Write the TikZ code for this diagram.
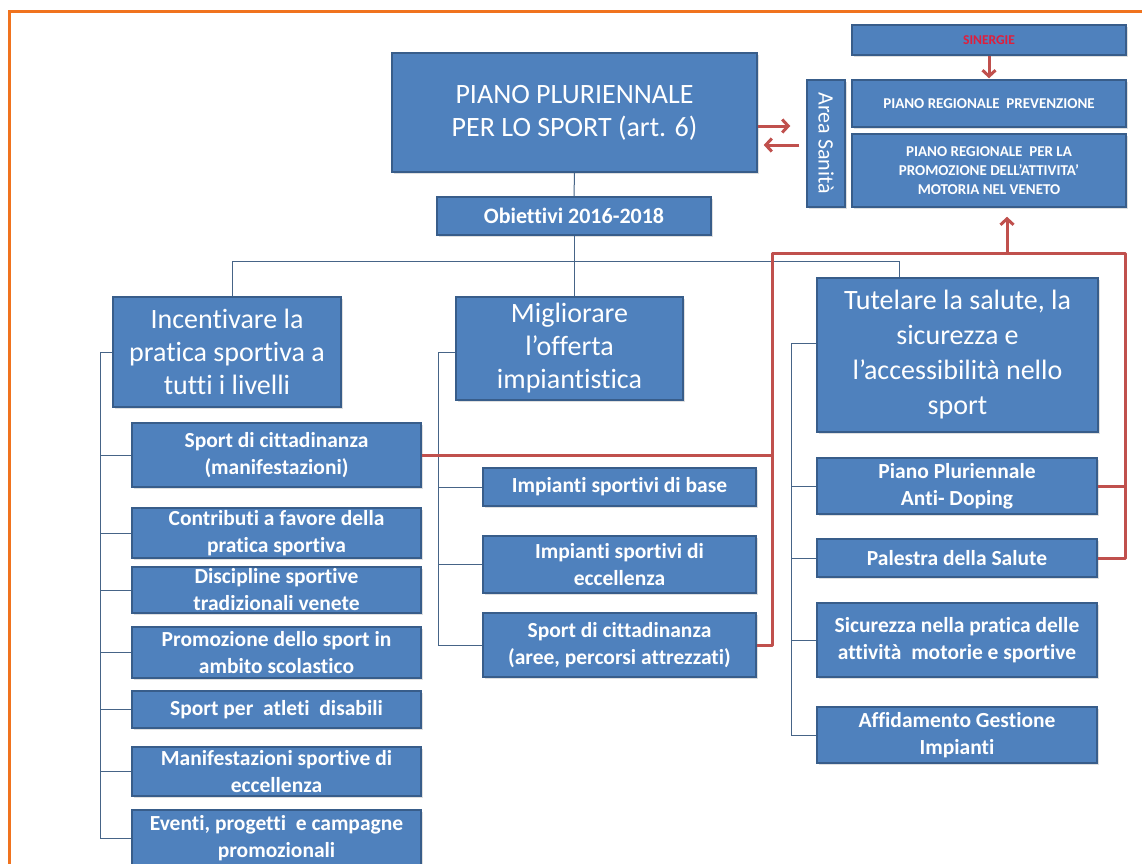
\documentclass[tikz,border=0pt]{standalone}
\usepackage{fontspec}
\setmainfont[Ligatures={NoCommon}]{Carlito}
\usetikzlibrary{arrows.meta,shadows}
\definecolor{boxfill}{RGB}{79,129,189}
\definecolor{boxline}{RGB}{56,93,138}
\definecolor{treeline}{RGB}{70,100,135}
\definecolor{redline}{RGB}{192,80,77}
\definecolor{orangeframe}{RGB}{240,115,30}
\definecolor{sinred}{RGB}{225,30,60}
\begin{document}
\begin{tikzpicture}[x=1pt,y=-1pt,
  box/.style={draw=boxline, line width=1.5pt, fill=boxfill, text=white, align=center, inner sep=0pt,
    drop shadow={shadow xshift=1.5pt,shadow yshift=-1.5pt,opacity=0.25}},
  bx/.style 2 args={minimum width=#1pt, minimum height=#2pt},
  big/.style={font=\fontsize{28}{33}\selectfont},
  bigfour/.style={font=\fontsize{28}{35}\selectfont},
  med/.style={font=\bfseries\fontsize{21.5}{27}\selectfont},
  small/.style={font=\bfseries\fontsize{15}{19}\selectfont},
  tree/.style={draw=treeline, line width=1pt},
  redpath/.style={draw=redline, line width=3pt, line join=round},
  redarrow/.style={draw=redline, line width=3pt, -{Straight Barb[length=6pt,width=13pt,line width=3pt]}}
]
\useasboundingbox (0,0) rectangle (1142,863);
\fill[white] (0,0) rectangle (1142,863);
\draw[orangeframe, line width=3pt] (9,870) -- (9,11) -- (1150,11);

% top area
\node[box,big,bx={365}{119}] (top) at (574.5,112.5) {PIANO PLURIENNALE\\PER LO SPORT (art. 6)};
\node[box,font=\bfseries\fontsize{22}{26}\selectfont,bx={274}{38}] (obj) at (574,216) {Obiettivi 2016-2018};
\node[box,bx={38}{127}] (area) at (826,143.5) {};
\node[text=white, rotate=-90, font=\fontsize{22}{24}\selectfont, inner sep=0pt] (areatxt) at (area.center) {Area Sanità};
\node[box, bx={274}{30}, font=\bfseries\fontsize{13.5}{15}\selectfont, text=sinred] (sin) at (989,40) {SINERGIE};
\node[box, small, bx={274}{47}] (prev) at (989,103.5) {PIANO REGIONALE\ \ PREVENZIONE};
\node[box, small, bx={274}{73}] (prom) at (989,170.5) {PIANO REGIONALE\ \ PER LA\\PROMOZIONE DELL’ATTIVITA’\\MOTORIA NEL VENETO};

% main objectives
\node[box,big,bx={228}{110}] (inc) at (227,352) {Incentivare la\\pratica sportiva a\\tutti i livelli};
\node[box,big,bx={227}{103}] (mig) at (569.5,348.5) {Migliorare\\l’offerta\\impiantistica};
\node[box,bigfour,bx={281}{154}] (tut) at (957.5,355) {Tutelare la salute, la\\sicurezza e\\l’accessibilità nello\\sport};

% left items
\node[box,med,bx={289}{64}] (L1) at (276.5,455) {Sport di cittadinanza\\(manifestazioni)};
\node[box,med,bx={289}{50}] (L2) at (276.5,533) {Contributi a favore della\\pratica sportiva};
\node[box,med,bx={289}{46}] (L3) at (276.5,590) {Discipline sportive\\tradizionali venete};
\node[box,med,bx={289}{51}] (L4) at (276.5,652.5) {Promozione dello sport in\\ambito scolastico};
\node[box,med,bx={289}{37}] (L5) at (276.5,709.5) {Sport per\ \ atleti\ \ disabili};
\node[box,med,bx={289}{49}] (L6) at (276.5,771.5) {Manifestazioni sportive di\\eccellenza};
\node[box,med,bx={289}{56}] (L7) at (276.5,838) {Eventi, progetti\ \ e campagne\\promozionali};

% middle items
\node[box,med,bx={273}{38}] (M1) at (619.5,487) {Impianti sportivi di base};
\node[box,med,bx={273}{57}] (M2) at (619.5,564.5) {Impianti sportivi di\\eccellenza};
\node[box,med,bx={273}{64}] (M3) at (619.5,645) {Sport di cittadinanza\\(aree, percorsi attrezzati)};

% right items
\node[box,med,bx={280}{56}] (R1) at (957,486) {Piano Pluriennale\\Anti- Doping};
\node[box,med,bx={280}{38}] (R2) at (957,558) {Palestra della Salute};
\node[box,med,bx={280}{74}] (R3) at (957,640) {Sicurezza nella pratica delle\\attività\ \ motorie e sportive};
\node[box,med,bx={280}{56}] (R4) at (957,735) {Affidamento Gestione\\Impianti};

% tree connectors
\draw[tree] (top.south) -- (obj.north);
\draw[tree] (obj.south) -- (obj.south |- mig.north);
\coordinate (hl) at (232,261);
\coordinate (hr) at (899,261);
\draw[tree] (hl |- inc.north) -- (hl) -- (hr) -- (hr |- tut.north);

\coordinate (lt) at (100,352);
\draw[tree] (inc.west) -- (inc.west -| lt) -- (lt |- L7.west);
\foreach \n in {L1,L2,L3,L4,L5,L6,L7} \draw[tree] (\n.west) -- (\n.west -| lt);

\coordinate (mt) at (438,352);
\draw[tree] (mt -| mig.west) -- (mt) -- (mt |- M3.west);
\foreach \n in {M1,M2,M3} \draw[tree] (\n.west) -- (\n.west -| mt);

\coordinate (rt) at (791,343);
\draw[tree] (rt -| tut.west) -- (rt) -- (rt |- R4.west);
\foreach \n in {R1,R2,R3,R4} \draw[tree] (\n.west) -- (\n.west -| rt);

% red connectors
\coordinate (ra) at (772,253);
\coordinate (rb) at (1125,253);
\draw[redpath] (L1.east) -| (ra) -- (rb) |- (R2.east);
\draw[redpath] (M3.east) -| (ra);
\draw[redpath] (R1.east) -- (R1.east -| rb);
\coordinate (upfoot) at (1007,253);
\draw[redarrow, shorten >=9pt] (upfoot) -- (upfoot |- prom.south);
\draw[redarrow, shorten >=1pt] (sin.south) -- (prev.north);
\draw[redarrow, shorten >=16pt] ([yshift=-13.5pt]top.east) -- ([yshift=-13.5pt]top.east -| area.west);
\draw[redarrow, shorten <=7pt, shorten >=6pt] ([yshift=-32.5pt]top.east -| area.west) -- ([yshift=-32.5pt]top.east);
\end{tikzpicture}
\end{document}
